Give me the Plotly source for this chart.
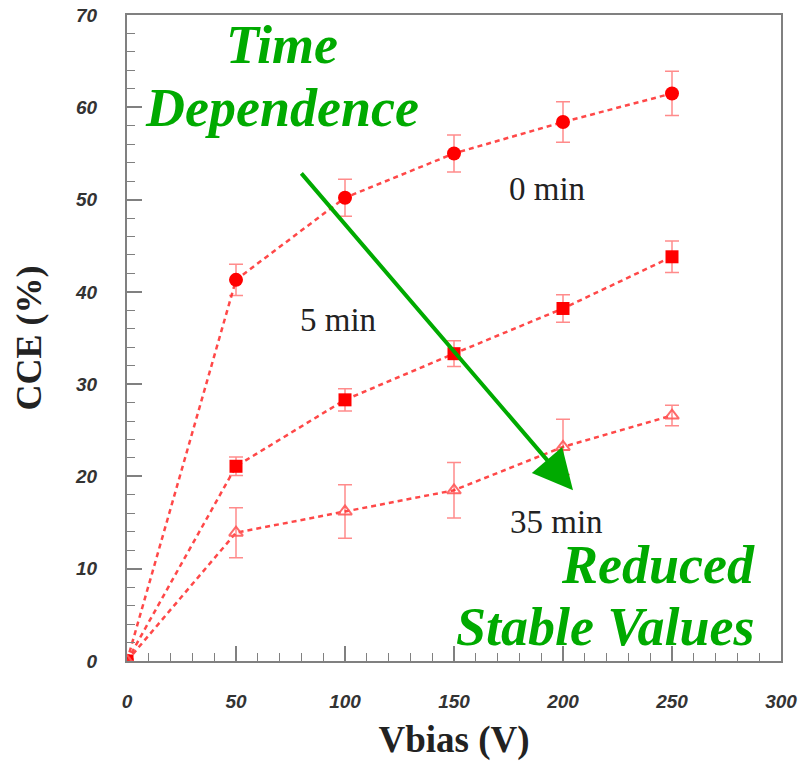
import plotly.graph_objects as go

# Bias voltage (V)
vbias = [0, 50, 100, 150, 200, 250]

# Charge collection efficiency (%) after different times
cce_0min = [0, 41.3, 50.2, 55.0, 58.4, 61.5]
err_0min = [0, 1.7, 2.0, 2.0, 2.2, 2.4]

cce_5min = [0, 21.1, 28.3, 33.3, 38.2, 43.8]
err_5min = [0, 1.0, 1.2, 1.4, 1.5, 1.7]

cce_35min = [0, 13.9, 16.2, 18.5, 23.2, 26.6]
err_35min = [0, 2.7, 2.9, 3.0, 3.0, 1.1]

RED = "#ff0000"
LINE_RED = "rgba(255,40,40,0.85)"
ERR_RED = "rgba(255,90,90,0.7)"
GREEN = "#00aa00"
SERIF = "Liberation Serif"
SANS = "Liberation Sans"

fig = go.Figure()

series = [
    (cce_0min, err_0min, dict(symbol="circle", size=14, color=RED)),
    (cce_5min, err_5min, dict(symbol="square", size=13, color=RED)),
    (cce_35min, err_35min, dict(symbol="triangle-up-open", size=12,
                                color="rgba(255,90,90,0.9)",
                                line=dict(width=2, color="rgba(255,90,90,0.9)"))),
]
for y, e, mk in series:
    fig.add_trace(go.Scatter(
        x=vbias, y=y, mode="lines+markers",
        line=dict(color=LINE_RED, width=2.5, dash="5px,4px"),
        marker=mk,
        error_y=dict(type="data", array=e, visible=True,
                     color=ERR_RED, thickness=1.5, width=7),
        showlegend=False,
    ))

annotations = [
    dict(x=192.7, y=51.2, text="0 min", font=dict(family=SERIF, size=33, color="#222")),
    dict(x=96.8, y=36.9, text="5 min", font=dict(family=SERIF, size=33, color="#222")),
    dict(x=196.8, y=15.1, text="35 min", font=dict(family=SERIF, size=33, color="#222")),
    dict(x=71.1, y=66.7, text="Time",
         font=dict(family=SERIF, size=54, color=GREEN, weight="bold", style="italic")),
    dict(x=71.1, y=59.9, text="Dependence",
         font=dict(family=SERIF, size=54, color=GREEN, weight="bold", style="italic")),
    dict(x=289, y=10.4, text="Reduced", xanchor="right",
         font=dict(family=SERIF, size=54, color=GREEN, weight="bold", style="italic")),
    dict(x=289, y=3.7, text="Stable Values", xanchor="right",
         font=dict(family=SERIF, size=54, color=GREEN, weight="bold", style="italic")),
]
for a in annotations:
    a.setdefault("xanchor", "center")
    fig.add_annotation(xref="x", yref="y", yanchor="middle", showarrow=False, **a)

# Arrow indicating the trend with time
fig.add_annotation(
    xref="x", yref="y", axref="x", ayref="y",
    x=204.6, y=18.5, ax=79.4, ay=53.0,
    text="", showarrow=True, arrowhead=2, arrowsize=2.0,
    arrowwidth=4, arrowcolor=GREEN, standoff=0,
)

axis_common = dict(
    showgrid=False, zeroline=False, showline=True, mirror=True,
    linecolor="#808080", linewidth=2, automargin=False,
    ticks="inside", tickcolor="#808080", tickwidth=1.5, ticklen=15,
    minor=dict(ticks="inside", ticklen=8, tickcolor="#808080", tickwidth=1.2),
    tickfont=dict(family=SANS, size=19, color="#333", weight="bold", style="italic"),
)

fig.update_xaxes(
    range=[0, 300], tickmode="linear", tick0=0, dtick=50,
    ticklabelstandoff=22,
    title=dict(text="Vbias (V)", font=dict(family=SERIF, size=37, color="#222", weight="bold"),
               standoff=16),
    **axis_common,
)
fig.update_xaxes(minor=dict(dtick=10))
fig.update_yaxes(
    range=[0, 70], tickmode="linear", tick0=0, dtick=10,
    ticklabelstandoff=24,
    title=dict(text="CCE (%)", font=dict(family=SERIF, size=36, color="#222", weight="bold"),
               standoff=22),
    **axis_common,
)
fig.update_yaxes(minor=dict(dtick=2))

fig.update_layout(
    width=799, height=761,
    margin=dict(l=127, r=18, t=15, b=100),
    plot_bgcolor="white", paper_bgcolor="white",
)

fig.write_html("out.html")
